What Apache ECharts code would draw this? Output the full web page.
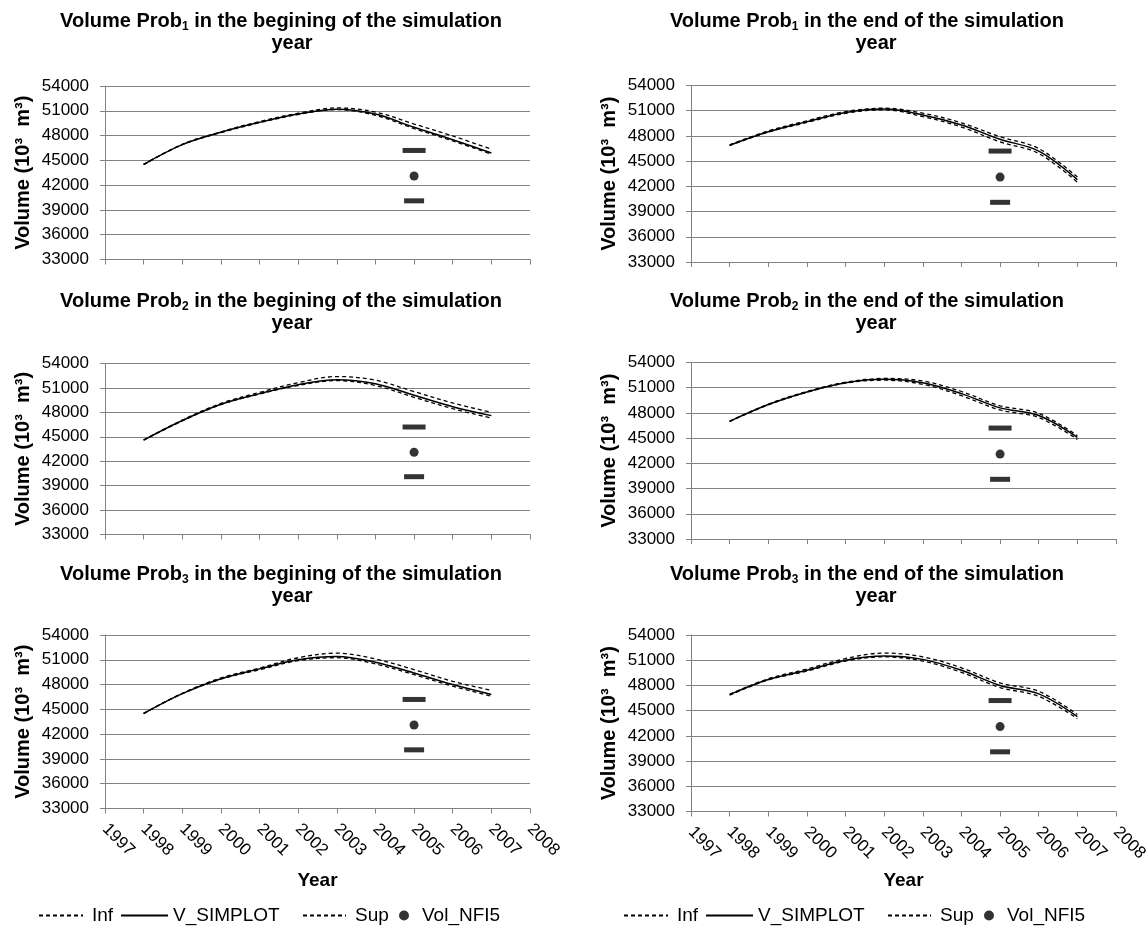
<!DOCTYPE html>
<html>
<head>
<meta charset="utf-8">
<title>Volume Prob simulations</title>
<script src="https://cdn.jsdelivr.net/npm/echarts@6/dist/echarts.min.js"></script>
<style>
  html, body { margin: 0; padding: 0; background: #ffffff; }
  #chart { width: 1146px; height: 927px; }
</style>
</head>
<body>
<div id="chart"></div>
<script>
// ---- data -------------------------------------------------------------
const years = [1998, 1999, 2000, 2001, 2002, 2003, 2004, 2005, 2006, 2007];
const yearTicks = [1997, 1998, 1999, 2000, 2001, 2002, 2003, 2004, 2005, 2006, 2007, 2008];
const volumeTicks = [33000, 36000, 39000, 42000, 45000, 48000, 51000, 54000];

// Prob1, beginning of the simulation year
const prob1BeginInf = [44500, 46900, 48350, 49550, 50550, 51150, 50450, 48850, 47350, 45750];
const prob1BeginSim = [44500, 46900, 48400, 49600, 50600, 51200, 50600, 49000, 47500, 45900];
const prob1BeginSup = [44500, 46950, 48450, 49700, 50700, 51350, 50850, 49400, 47950, 46350];
// Prob1, end of the simulation year
const prob1EndInf = [46850, 48450, 49600, 50700, 51100, 50300, 49050, 47300, 45900, 42500];
const prob1EndSim = [46900, 48500, 49700, 50800, 51200, 50500, 49300, 47600, 46200, 42800];
const prob1EndSup = [46950, 48600, 49800, 50900, 51300, 50700, 49550, 47900, 46500, 43100];
// Prob2, beginning
const prob2BeginInf = [44600, 46950, 48950, 50250, 51300, 51900, 51300, 49850, 48450, 47300];
const prob2BeginSim = [44600, 47000, 49000, 50300, 51400, 52000, 51500, 50100, 48700, 47600];
const prob2BeginSup = [44600, 47050, 49100, 50450, 51650, 52400, 51950, 50550, 49150, 48000];
// Prob2, end
const prob2EndInf = [47000, 48950, 50450, 51550, 51900, 51400, 50050, 48350, 47450, 44850];
const prob2EndSim = [47000, 49000, 50500, 51600, 52000, 51600, 50300, 48600, 47700, 45100];
const prob2EndSup = [47000, 49050, 50550, 51650, 52100, 51800, 50550, 48850, 47950, 45300];
// Prob3, beginning
const prob3BeginInf = [44500, 46900, 48650, 49800, 50900, 51250, 50500, 49200, 47800, 46600];
const prob3BeginSim = [44500, 46900, 48700, 49900, 51000, 51400, 50700, 49400, 48000, 46800];
const prob3BeginSup = [44500, 46950, 48800, 50000, 51250, 51800, 51100, 49800, 48400, 47300];
// Prob3, end
const prob3EndInf = [46850, 48650, 49700, 50900, 51400, 50900, 49550, 47750, 46700, 44050];
const prob3EndSim = [46900, 48700, 49800, 51000, 51500, 51100, 49800, 48000, 47000, 44300];
const prob3EndSup = [46950, 48800, 49950, 51200, 51850, 51400, 50100, 48300, 47300, 44550];

// NFI5 inventory volume with its interval bounds
const nfiYear = [2005];
const nfiVolume = [43100];
const nfiUpper = [46200];
const nfiLower = [40100];

const titleLines = [
  'Volume Prob{s|1} in the begining of the simulation',
  'Volume Prob{s|1} in the end of the simulation',
  'Volume Prob{s|2} in the begining of the simulation',
  'Volume Prob{s|2} in the end of the simulation',
  'Volume Prob{s|3} in the begining of the simulation',
  'Volume Prob{s|3} in the end of the simulation'
];
const titleSecondLine = 'year';
const seriesNames = ['Inf', 'V_SIMPLOT', 'Sup', 'Vol_NFI5'];
const yAxisTitle = 'Volume (10\u00B3  m\u00B3)';
const xAxisTitle = 'Year';

// ---- layout -----------------------------------------------------------
const FONT = "'Liberation Sans', Arial, Helvetica, sans-serif";
const GRID_COLOR = '#828282';

const panels = [
  { inf: prob1BeginInf, sim: prob1BeginSim, sup: prob1BeginSup, left: 105, top: 86,    height: 173.5, t1x: 281, t2x: 292, t1y: 21,  t2y: 43 },
  { inf: prob1EndInf,   sim: prob1EndSim,   sup: prob1EndSup,   left: 691, top: 85.5,  height: 176.5, t1x: 867, t2x: 876, t1y: 21,  t2y: 43 },
  { inf: prob2BeginInf, sim: prob2BeginSim, sup: prob2BeginSup, left: 105, top: 363.5, height: 171,   t1x: 281, t2x: 292, t1y: 301, t2y: 323 },
  { inf: prob2EndInf,   sim: prob2EndSim,   sup: prob2EndSup,   left: 691, top: 362.5, height: 176.5, t1x: 867, t2x: 876, t1y: 301, t2y: 323 },
  { inf: prob3BeginInf, sim: prob3BeginSim, sup: prob3BeginSup, left: 105, top: 635,   height: 173.5, t1x: 281, t2x: 292, t1y: 574, t2y: 596 },
  { inf: prob3EndInf,   sim: prob3EndSim,   sup: prob3EndSup,   left: 691, top: 635,   height: 176.5, t1x: 867, t2x: 876, t1y: 574, t2y: 596 }
];
const PLOT_WIDTH = 425;
const YEAR_LABEL_Y = 881;

const pairs = (xs, vs) => xs.map((x, k) => [x, vs[k]]);

const grid = [], xAxis = [], yAxis = [], series = [], title = [];

panels.forEach((p, i) => {
  const isBottom = i >= 4;
  grid.push({ left: p.left, top: p.top, width: PLOT_WIDTH, height: p.height,
              containLabel: false, outerBoundsMode: 'none' });

  xAxis.push({
    type: 'value', gridIndex: i,
    min: yearTicks[0], max: yearTicks[yearTicks.length - 1], interval: 1,
    axisLine: { show: true, lineStyle: { color: GRID_COLOR, width: 1 } },
    axisTick: { show: true, inside: false, length: 5, lineStyle: { color: GRID_COLOR } },
    splitLine: { show: false },
    axisLabel: { show: isBottom, rotate: -45, margin: 18, fontSize: 17, color: '#000',
                 fontFamily: FONT, formatter: v => String(v), showMinLabel: true, showMaxLabel: true },
    name: isBottom ? xAxisTitle : '',
    nameLocation: 'middle',
    nameGap: YEAR_LABEL_Y - 10 - (p.top + p.height),
    nameTextStyle: { fontSize: 19, fontWeight: 'bold', color: '#000', fontFamily: FONT }
  });

  yAxis.push({
    type: 'value', gridIndex: i,
    min: volumeTicks[0], max: volumeTicks[volumeTicks.length - 1],
    interval: volumeTicks[1] - volumeTicks[0],
    axisLine: { show: true, lineStyle: { color: GRID_COLOR, width: 1 } },
    axisTick: { show: true, inside: false, length: 5, lineStyle: { color: GRID_COLOR } },
    splitLine: { show: true, lineStyle: { color: GRID_COLOR, width: 1 } },
    axisLabel: { margin: 16, fontSize: 17, color: '#000', fontFamily: FONT,
                 formatter: v => String(v) },
    name: yAxisTitle,
    nameLocation: 'middle',
    nameGap: 72,
    nameTextStyle: { fontSize: 20, fontWeight: 'bold', color: '#000', fontFamily: FONT }
  });

  const lineCommon = {
    type: 'line', xAxisIndex: i, yAxisIndex: i, symbol: 'none', smooth: 0.35,
    animation: false, emphasis: { disabled: true }, itemStyle: { color: '#000' }
  };
  series.push(Object.assign({}, lineCommon, {
    name: seriesNames[0], data: pairs(years, p.inf), z: 3,
    lineStyle: { color: '#000', width: 1.3, type: [4, 3] }
  }));
  series.push(Object.assign({}, lineCommon, {
    name: seriesNames[1], data: pairs(years, p.sim), z: 2,
    lineStyle: { color: '#000', width: 1.5, type: 'solid' }
  }));
  series.push(Object.assign({}, lineCommon, {
    name: seriesNames[2], data: pairs(years, p.sup), z: 4,
    lineStyle: { color: '#000', width: 1.3, type: [4, 3] }
  }));
  series.push({
    type: 'scatter', name: seriesNames[3], xAxisIndex: i, yAxisIndex: i,
    data: pairs(nfiYear, nfiVolume), symbol: 'circle', symbolSize: 9,
    itemStyle: { color: '#000' }, z: 5, animation: false, emphasis: { disabled: true }
  });
  series.push({
    type: 'scatter', name: 'NFI5 upper', xAxisIndex: i, yAxisIndex: i,
    data: pairs(nfiYear, nfiUpper), symbol: 'rect', symbolSize: [23, 5],
    itemStyle: { color: '#000' }, z: 5, animation: false, emphasis: { disabled: true }
  });
  series.push({
    type: 'scatter', name: 'NFI5 lower', xAxisIndex: i, yAxisIndex: i,
    data: pairs(nfiYear, nfiLower), symbol: 'rect', symbolSize: [20, 5],
    itemStyle: { color: '#000' }, z: 5, animation: false, emphasis: { disabled: true }
  });

  const titleStyle = {
    fontSize: 20, fontWeight: 'bold', color: '#000', fontFamily: FONT, lineHeight: 23,
    rich: { s: { fontSize: 12, fontWeight: 'bold', color: '#000', fontFamily: FONT,
                 lineHeight: 12, verticalAlign: 'bottom' } }
  };
  title.push({ text: titleLines[i], left: p.t1x, top: p.t1y, padding: 0,
               textAlign: 'center', textVerticalAlign: 'middle', textStyle: titleStyle });
  title.push({ text: titleSecondLine, left: p.t2x, top: p.t2y, padding: 0,
               textAlign: 'center', textVerticalAlign: 'middle', textStyle: titleStyle });
});

// one legend entry per component so each item sits at its own x
const legendSlots = [
  { name: seriesNames[0], x: 38,  w: 44, h: 14, pad: 4, line: true },
  { name: seriesNames[1], x: 120, w: 47, h: 14, pad: 0, line: true },
  { name: seriesNames[2], x: 302, w: 43, h: 14, pad: 4, line: true },
  { name: seriesNames[3], x: 399, w: 26, h: 10, pad: 0, line: false }
];
const legend = [];
[0, 585].forEach(dx => {
  legendSlots.forEach(s => {
    const item = {
      data: [s.name], left: s.x + dx, top: 906, padding: 0, itemGap: 0,
      itemWidth: s.w, itemHeight: s.h, selectedMode: false,
      textStyle: { fontSize: 19, color: '#000', fontFamily: FONT, padding: [0, 0, 0, s.pad] }
    };
    if (s.line) item.itemStyle = { opacity: 0 };
    legend.push(item);
  });
});

const chart = echarts.init(document.getElementById('chart'), null, { renderer: 'canvas' });
chart.setOption({
  backgroundColor: '#ffffff',
  animation: false,
  textStyle: { fontFamily: FONT },
  title, legend, grid, xAxis, yAxis, series
});
</script>
</body>
</html>
